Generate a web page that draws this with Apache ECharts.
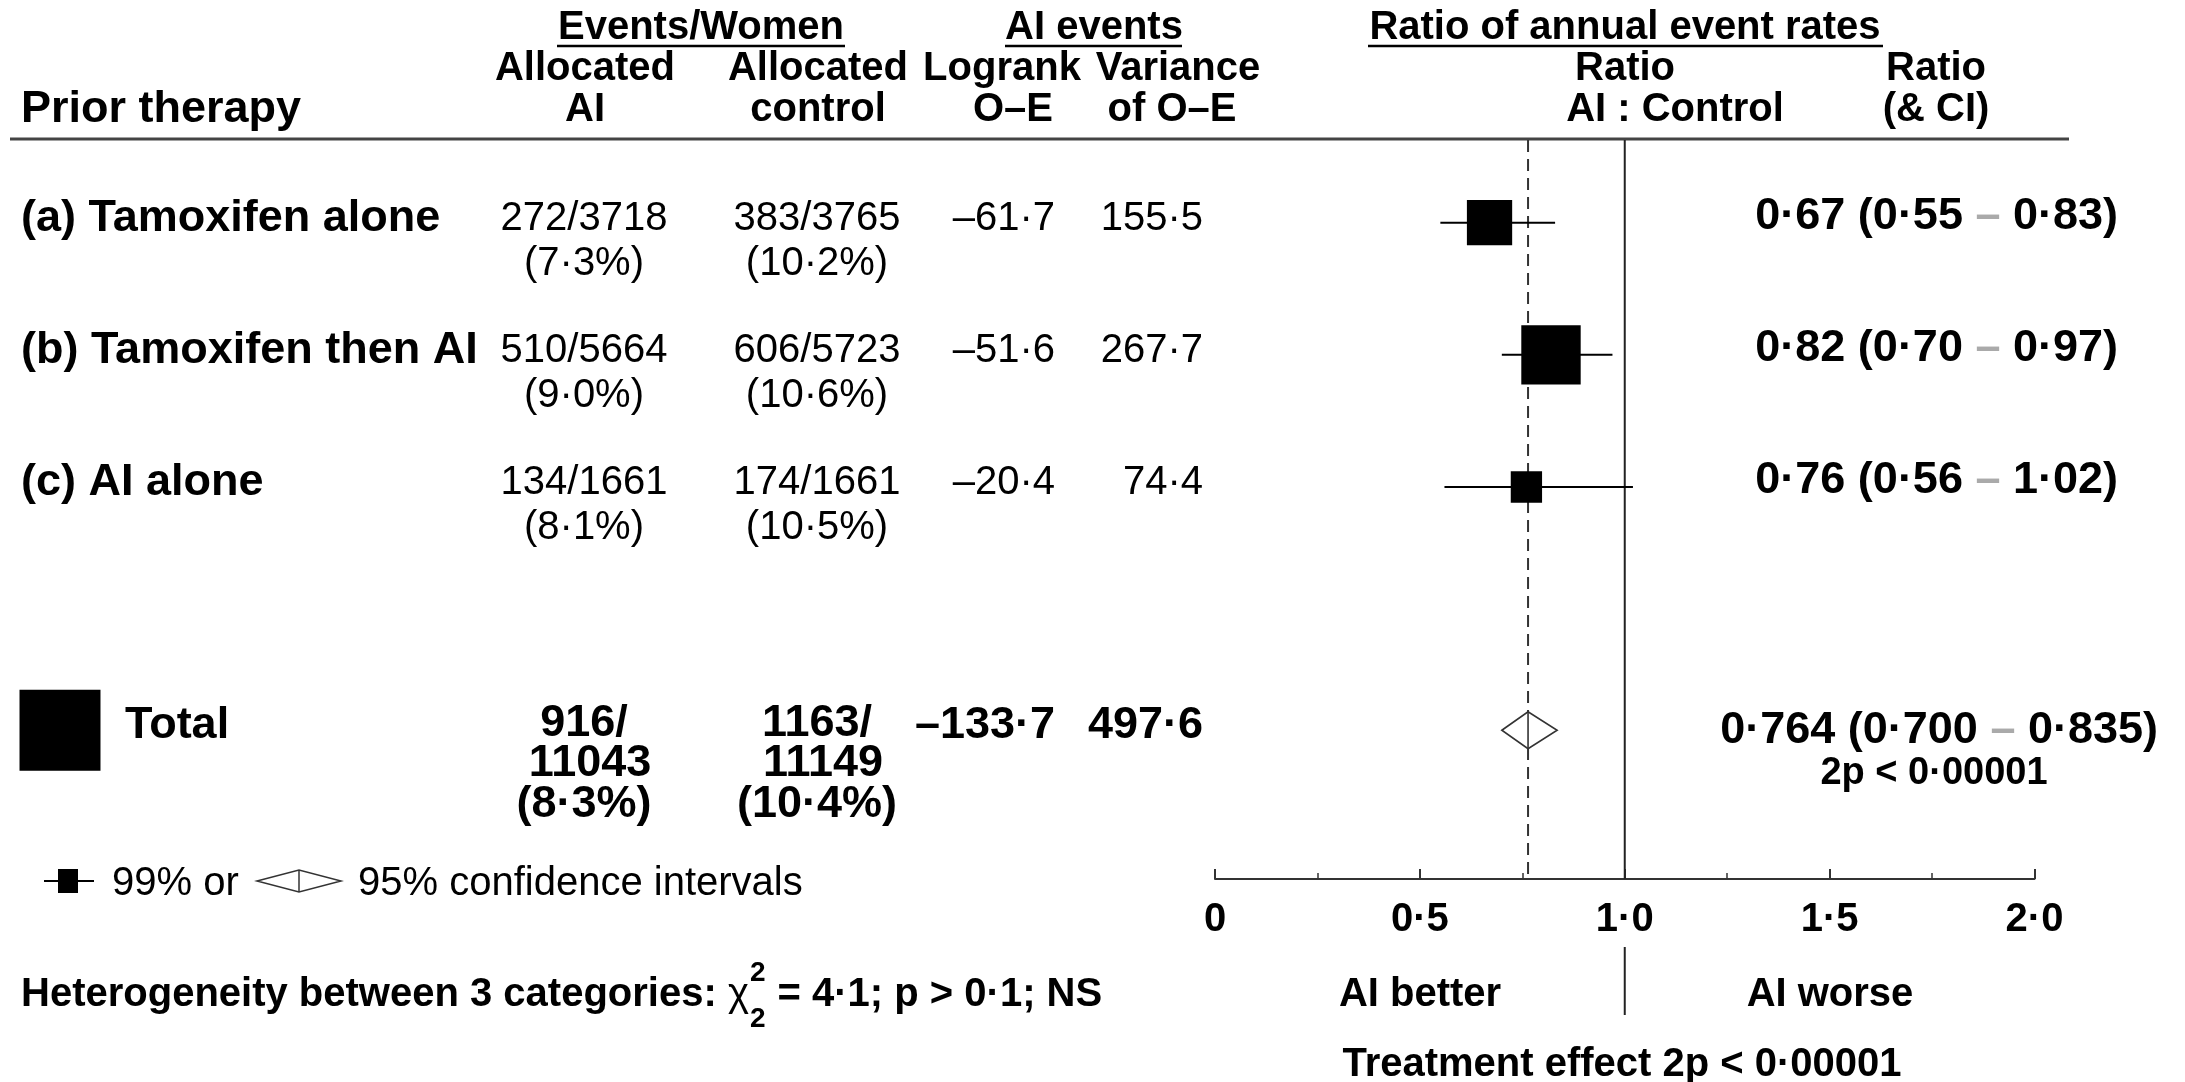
<!DOCTYPE html>
<html><head><meta charset="utf-8">
<script src="https://cdn.jsdelivr.net/npm/echarts@6/dist/echarts.min.js"></script>
<style>html,body{margin:0;padding:0;background:#fff}#c{width:2185px;height:1082px}</style>
</head><body><div id="c"></div>
<script>
// ---------- data ----------
const categories = ['(a) Tamoxifen alone', '(b) Tamoxifen then AI', '(c) AI alone'];
const aiEvents = [272, 510, 134];
const aiWomen = [3718, 5664, 1661];
const ctlEvents = [383, 606, 174];
const ctlWomen = [3765, 5723, 1661];
const logrankOE = [-61.7, -51.6, -20.4];
const varianceOE = [155.5, 267.7, 74.4];
const ratio = [0.67, 0.82, 0.76];
const ciLow = [0.55, 0.70, 0.56];
const ciHigh = [0.83, 0.97, 1.02];
const totalEvents = [916, 1163];
const totalWomen = [11043, 11149];
const totalOE = -133.7;
const totalVar = 497.6;
const totalRatio = [0.764, 0.700, 0.835];
const totalP = '2p < 0·00001';
const xTicks = [0, 0.5, 1, 1.5, 2];
const xTickLabels = ['0', '0·5', '1·0', '1·5', '2·0'];
const hetLeft = 'Heterogeneity between 3 categories: ';
const hetRight = ' = 4·1; p > 0·1; NS';

// ---------- helpers ----------
const FONT = "'Liberation Sans', Arial, Helvetica, sans-serif";
const TEXT_DY = 3;
const dot = s => s.replace('.', '·').replace('-', '–');
const fmt = (v, d) => dot(v.toFixed(d));
const pct = (e, n) => '(' + fmt(100 * e / n, 1) + '%)';
function txt(x, y, text, size, weight, align) {
  return {
    type: 'text', x: x, y: y + TEXT_DY, silent: true,
    style: {
      text: text, fill: '#000', fontSize: size, fontWeight: weight, fontFamily: FONT,
      align: align, textAlign: align, verticalAlign: 'middle', textVerticalAlign: 'middle'
    }
  };
}
function ratioText(x, y, r, lo, hi, d, size) {
  const base = { fontSize: size, fontWeight: 'bold', fontFamily: FONT, fill: '#000' };
  return {
    type: 'text', x: x, y: y + TEXT_DY, silent: true,
    style: {
      text: '{a|' + fmt(r, d) + ' (' + fmt(lo, d) + ' }{g|–}{a| ' + fmt(hi, d) + ')}',
      rich: { a: base, g: Object.assign({}, base, { fill: '#aaaaaa' }) },
      align: 'right', textAlign: 'right', verticalAlign: 'middle', textVerticalAlign: 'middle'
    }
  };
}

// ---------- layout ----------
const TOP = 140, BOTTOM = 203;
const PLOT_L = 1215, PLOT_R = 150.5;
const Y_MIN = -0.625, Y_MAX = 4.965, TOTAL_POS = 3.84;
const BOX_K = 3.63;
const COL = { label: 21, ai: 584, ctl: 817, oe: 1055, vr: 1203, ratio: 2118,
              totLabel: 125, totBox: 60, totRatio: 2158, p: 1934 };

const chart = echarts.init(document.getElementById('c'));

function tableItem(params, api) {
  const i = params.dataIndex;
  const y = api.coord([0, i])[1];
  const X = v => api.coord([v, i])[0];
  return { type: 'group', children: [
    txt(X(COL.label), y - 7, categories[i], 45, 'bold', 'left'),
    txt(X(COL.ai), y - 7, aiEvents[i] + '/' + aiWomen[i], 40, 'normal', 'center'),
    txt(X(COL.ai), y + 38, pct(aiEvents[i], aiWomen[i]), 40, 'normal', 'center'),
    txt(X(COL.ctl), y - 7, ctlEvents[i] + '/' + ctlWomen[i], 40, 'normal', 'center'),
    txt(X(COL.ctl), y + 38, pct(ctlEvents[i], ctlWomen[i]), 40, 'normal', 'center'),
    txt(X(COL.oe), y - 7, fmt(logrankOE[i], 1), 40, 'normal', 'right'),
    txt(X(COL.vr), y - 7, fmt(varianceOE[i], 1), 40, 'normal', 'right'),
    ratioText(X(COL.ratio), y - 9, ratio[i], ciLow[i], ciHigh[i], 2, 45)
  ]};
}
function totalItem(params, api) {
  const y = api.coord([0, TOTAL_POS])[1];
  const X = v => api.coord([v, TOTAL_POS])[0];
  const s = BOX_K * Math.sqrt(totalVar);
  const c = X(COL.totBox);
  return { type: 'group', children: [
    { type: 'rect', shape: { x: c - s / 2, y: y - s / 2, width: s, height: s }, style: { fill: '#000' } },
    txt(X(COL.totLabel), y - 8, 'Total', 45, 'bold', 'left'),
    txt(X(COL.ai), y - 10, totalEvents[0] + '/', 45, 'bold', 'center'),
    txt(X(COL.ai) + 6, y + 30, String(totalWomen[0]), 45, 'bold', 'center'),
    txt(X(COL.ai), y + 71, pct(totalEvents[0], totalWomen[0]), 45, 'bold', 'center'),
    txt(X(COL.ctl), y - 10, totalEvents[1] + '/', 45, 'bold', 'center'),
    txt(X(COL.ctl) + 6, y + 30, String(totalWomen[1]), 45, 'bold', 'center'),
    txt(X(COL.ctl), y + 71, pct(totalEvents[1], totalWomen[1]), 45, 'bold', 'center'),
    txt(X(COL.oe), y - 8, fmt(totalOE, 1), 45, 'bold', 'right'),
    txt(X(COL.vr), y - 8, fmt(totalVar, 1), 45, 'bold', 'right'),
    ratioText(X(COL.totRatio), y - 3, totalRatio[0], totalRatio[1], totalRatio[2], 3, 45),
    txt(X(COL.p), y + 40, totalP, 38, 'bold', 'center')
  ]};
}
function forestItem(params, api) {
  const row = api.value(4);
  const c = api.coord([api.value(0), row]);
  const l = api.coord([api.value(1), row]);
  const h = api.coord([api.value(2), row]);
  const s = BOX_K * Math.sqrt(api.value(3));
  return { type: 'group', children: [
    { type: 'line', shape: { x1: l[0], y1: c[1], x2: h[0], y2: c[1] }, style: { stroke: '#000', lineWidth: 2 } },
    { type: 'rect', shape: { x: c[0] - s / 2, y: c[1] - s / 2, width: s, height: s }, style: { fill: '#000' } }
  ]};
}
function diamondItem(params, api) {
  const row = api.value(3);
  const c = api.coord([api.value(0), row]);
  const l = api.coord([api.value(1), row]);
  const h = api.coord([api.value(2), row]);
  const hh = 18.5;
  return { type: 'group', children: [
    { type: 'polygon', shape: { points: [[l[0], c[1]], [c[0], c[1] - hh], [h[0], c[1]], [c[0], c[1] + hh]] },
      style: { fill: '#fff', stroke: '#333', lineWidth: 1.6 } },
    { type: 'line', shape: { x1: c[0], y1: c[1] - hh, x2: c[0], y2: c[1] + hh }, style: { stroke: '#333', lineWidth: 1.6 } }
  ]};
}
function refLineItem(params, api) {
  const x = api.value(0);
  const top = api.coord([x, Y_MIN]);
  const bot = api.coord([x, Y_MAX]);
  const dashed = params.dataIndex === 1;
  const children = [
    { type: 'line', shape: { x1: top[0], y1: top[1], x2: bot[0], y2: bot[1] },
      style: { stroke: dashed ? '#333' : '#222', lineWidth: 2, lineDash: dashed ? [12, 7] : null } }
  ];
  if (!dashed) {
    children.push({ type: 'line', shape: { x1: top[0], y1: 947, x2: top[0], y2: 1015 },
      style: { stroke: '#222', lineWidth: 2 } });
  }
  return { type: 'group', children: children };
}

// heterogeneity line pieces (measured)
const ctx = document.createElement('canvas').getContext('2d');
ctx.font = 'bold 40px ' + FONT;
const hetW = ctx.measureText(hetLeft).width;
ctx.font = '40px ' + FONT;
const chiW = ctx.measureText('χ').width;
ctx.font = 'bold 28px ' + FONT;
const twoW = ctx.measureText('2').width;
const HX = 21, HY = 992;

const graphics = [
  // header row 1
  txt(701, 25, 'Events/Women', 40, 'bold', 'center'),
  txt(1094, 25, 'AI events', 40, 'bold', 'center'),
  txt(1625, 25, 'Ratio of annual event rates', 40, 'bold', 'center'),
  { type: 'line', shape: { x1: 557, y1: 46, x2: 845, y2: 46 }, style: { stroke: '#000', lineWidth: 2.5 } },
  { type: 'line', shape: { x1: 1005, y1: 46, x2: 1182, y2: 46 }, style: { stroke: '#000', lineWidth: 2.5 } },
  { type: 'line', shape: { x1: 1368, y1: 46, x2: 1883, y2: 46 }, style: { stroke: '#000', lineWidth: 2.5 } },
  // header row 2
  txt(585, 66, 'Allocated', 40, 'bold', 'center'),
  txt(818, 66, 'Allocated', 40, 'bold', 'center'),
  txt(1002, 66, 'Logrank', 40, 'bold', 'center'),
  txt(1178, 66, 'Variance', 40, 'bold', 'center'),
  txt(1625, 66, 'Ratio', 40, 'bold', 'center'),
  txt(1936, 66, 'Ratio', 40, 'bold', 'center'),
  // header row 3
  txt(21, 107, 'Prior therapy', 45, 'bold', 'left'),
  txt(585, 107, 'AI', 40, 'bold', 'center'),
  txt(818, 107, 'control', 40, 'bold', 'center'),
  txt(1013, 107, 'O–E', 40, 'bold', 'center'),
  txt(1172, 107, 'of O–E', 40, 'bold', 'center'),
  txt(1675, 107, 'AI : Control', 40, 'bold', 'center'),
  txt(1936, 107, '(& CI)', 40, 'bold', 'center'),
  { type: 'line', shape: { x1: 10, y1: 139, x2: 2069, y2: 139 }, style: { stroke: '#444', lineWidth: 3 } },
  // legend
  { type: 'line', shape: { x1: 44, y1: 881, x2: 94, y2: 881 }, style: { stroke: '#000', lineWidth: 2 } },
  { type: 'rect', shape: { x: 58, y: 869, width: 20, height: 24 }, style: { fill: '#000' } },
  txt(112, 881, '99% or', 40, 'normal', 'left'),
  { type: 'polygon', shape: { points: [[257, 881], [299, 870], [341, 881], [299, 892]] },
    style: { fill: '#fff', stroke: '#333', lineWidth: 1.5 } },
  { type: 'line', shape: { x1: 299, y1: 870, x2: 299, y2: 892 }, style: { stroke: '#333', lineWidth: 1.5 } },
  txt(358, 881, '95% confidence intervals', 40, 'normal', 'left'),
  // heterogeneity
  txt(HX, HY, hetLeft, 40, 'bold', 'left'),
  txt(HX + hetW, HY, 'χ', 40, 'normal', 'left'),
  txt(HX + hetW + chiW + 1, HY - 22, '2', 28, 'bold', 'left'),
  txt(HX + hetW + chiW + 1, HY + 24, '2', 28, 'bold', 'left'),
  txt(HX + hetW + chiW + twoW + 2, HY, hetRight, 40, 'bold', 'left'),
  // bottom labels
  txt(1420, 992, 'AI better', 40, 'bold', 'center'),
  txt(1830, 992, 'AI worse', 40, 'bold', 'center'),
  txt(1622, 1062, 'Treatment effect 2p < 0·00001', 40, 'bold', 'center')
];

const option = {
  animation: false,
  backgroundColor: '#fff',
  grid: [
    { left: PLOT_L, right: PLOT_R, top: TOP, bottom: BOTTOM },
    { left: 0, right: 0, top: TOP, bottom: BOTTOM }
  ],
  xAxis: [
    { type: 'value', gridIndex: 0, min: xTicks[0], max: xTicks[xTicks.length - 1], interval: xTicks[1] - xTicks[0],
      axisLine: { show: true, onZero: false, lineStyle: { color: '#333', width: 2 } },
      axisTick: { show: true, inside: true, length: 10, lineStyle: { color: '#333', width: 2 } },
      minorTick: { show: true, splitNumber: 2, length: 6, lineStyle: { color: '#333', width: 1.5 } },
      splitLine: { show: false }, minorSplitLine: { show: false },
      axisLabel: { show: true, showMinLabel: true, showMaxLabel: true, margin: 21,
        color: '#000', fontSize: 40, fontWeight: 'bold', fontFamily: FONT,
        formatter: v => { const k = xTicks.indexOf(v); return k >= 0 ? xTickLabels[k] : ''; } } },
    { type: 'value', gridIndex: 1, min: 0, max: 2185, show: false }
  ],
  yAxis: [
    { type: 'value', gridIndex: 0, min: Y_MIN, max: Y_MAX, inverse: true, show: false },
    { type: 'value', gridIndex: 1, min: Y_MIN, max: Y_MAX, inverse: true, show: false }
  ],
  series: [
    { type: 'custom', name: 'ref', xAxisIndex: 0, yAxisIndex: 0, silent: true, z: 1,
      data: [[1.0], [totalRatio[0]]], encode: { x: 0 }, renderItem: refLineItem },
    { type: 'custom', name: 'forest', xAxisIndex: 0, yAxisIndex: 0, silent: true, z: 3,
      data: categories.map((c, i) => [ratio[i], ciLow[i], ciHigh[i], varianceOE[i], i]),
      encode: { x: [0, 1, 2], y: 4 }, renderItem: forestItem },
    { type: 'custom', name: 'total', xAxisIndex: 0, yAxisIndex: 0, silent: true, z: 3,
      data: [[totalRatio[0], totalRatio[1], totalRatio[2], TOTAL_POS]],
      encode: { x: [0, 1, 2], y: 3 }, renderItem: diamondItem },
    { type: 'custom', name: 'table', xAxisIndex: 1, yAxisIndex: 1, silent: true, z: 4,
      data: categories.map((c, i) => [0, i]), encode: { x: 0, y: 1 }, renderItem: tableItem },
    { type: 'custom', name: 'tableTotal', xAxisIndex: 1, yAxisIndex: 1, silent: true, z: 4,
      data: [[0, TOTAL_POS]], encode: { x: 0, y: 1 }, renderItem: totalItem }
  ],
  graphic: { elements: graphics }
};
chart.setOption(option);
</script>
</body></html>
